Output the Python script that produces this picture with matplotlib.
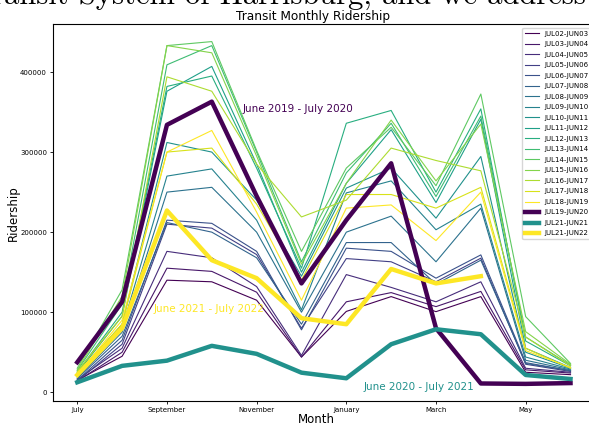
import numpy as np
import matplotlib
matplotlib.use("Agg")
import matplotlib.pyplot as plt

months = ["July", "August", "September", "October", "November", "December",
          "January", "February", "March", "April", "May", "June"]

# thin lines, one per fiscal year (Jul..Jun)
thin_labels = ["JUL02-JUN03", "JUL03-JUN04", "JUL04-JUN05", "JUL05-JUN06",
               "JUL06-JUN07", "JUL07-JUN08", "JUL08-JUN09", "JUL09-JUN10",
               "JUL10-JUN11", "JUL11-JUN12", "JUL12-JUN13", "JUL13-JUN14",
               "JUL14-JUN15", "JUL15-JUN16", "JUL16-JUN17", "JUL17-JUN18",
               "JUL18-JUN19"]
thin_values = [
    [15000, 45000, 140000, 138000, 115000, 44000, 101000, 119500, 100700, 119500, 25000, 22000],
    [14000, 50000, 155000, 151000, 125000, 44000, 113000, 124500, 107000, 126000, 28000, 24000],
    [16000, 55000, 176000, 168000, 132000, 46000, 147000, 131000, 113000, 138000, 30000, 25000],
    [14000, 60000, 210000, 205000, 172000, 80000, 167000, 163000, 138000, 167500, 35000, 26000],
    [15000, 65000, 215000, 211000, 176000, 78000, 180000, 176000, 142500, 171600, 37000, 27000],
    [17000, 70000, 212000, 200000, 168000, 85000, 187000, 187000, 135000, 165000, 36000, 27000],
    [18000, 75000, 250000, 256000, 200000, 100000, 200000, 220000, 163000, 230000, 40000, 28000],
    [20000, 80000, 270000, 279000, 215000, 103000, 249000, 264000, 203000, 235000, 44000, 29000],
    [22000, 85000, 312000, 300000, 240000, 145000, 255000, 280000, 217500, 294500, 50000, 30000],
    [24000, 95000, 376000, 407000, 285000, 150000, 261000, 328000, 237000, 341000, 55000, 31000],
    [25000, 100000, 382000, 395000, 280000, 155000, 336000, 352000, 250000, 354000, 64000, 33000],
    [27000, 110000, 409000, 433000, 300000, 163000, 274000, 336000, 244500, 345000, 69000, 34000],
    [30000, 128000, 433000, 438000, 302000, 176000, 280000, 331000, 258000, 372500, 94500, 36000],
    [28000, 120000, 433000, 424000, 295000, 160000, 261000, 340000, 264000, 335000, 75700, 35000],
    [26000, 95000, 394000, 376000, 285000, 219000, 240000, 305000, 289500, 276600, 69000, 33000],
    [24000, 85000, 300000, 305000, 235000, 140000, 247000, 247000, 230000, 256000, 55000, 30000],
    [22000, 90000, 300000, 327000, 225000, 115000, 230000, 234000, 189500, 250000, 52000, 31000],
]

# highlighted years
covid_1 = [37500, 113000, 334000, 363000, 245000, 136000, 215000, 286000, 80000, 11000, 10500, 11500]
covid_2 = [12500, 33000, 39500, 58000, 48000, 24500, 17500, 60000, 78700, 72500, 21600, 16600]
recent = [21600, 80000, 227000, 165000, 142500, 92500, 85000, 154000, 136000, 145000, np.nan, np.nan]

x = np.arange(len(months))
cmap = plt.get_cmap("viridis")
thin_colors = cmap(np.linspace(0, 1, len(thin_labels)))

fig = plt.figure(figsize=(5.89, 4.25), dpi=100)
ax = fig.add_axes([0.0893, 0.0565, 0.9212, 0.8859])

for vals, lab, c in zip(thin_values, thin_labels, thin_colors):
    ax.plot(x, vals, color=c, lw=0.8, label=lab)
ax.plot(x, covid_1, color=cmap(0.0), lw=3.2, label="JUL19-JUN20")
ax.plot(x, covid_2, color=cmap(0.5), lw=3.2, label="JUL21-JUN21")
ax.plot(x, recent, color=cmap(1.0), lw=3.2, label="JUL21-JUN22")

ax.text(4.93, 354000, "June 2019 - July 2020", color=cmap(0.0), fontsize=7.5, ha="center", va="center")
ax.text(2.93, 104000, "June 2021 - July 2022", color=cmap(1.0), fontsize=7.5, ha="center", va="center")
ax.text(7.63, 6500, "June 2020 - July 2021", color=cmap(0.5), fontsize=7.5, ha="center", va="center")

ax.set_xticks(x[::2])
ax.set_xticklabels(months[::2])
ax.tick_params(labelsize=5, length=2, width=0.6, pad=2)
ax.set_title("Transit Monthly Ridership", fontsize=8.7, x=0.48, pad=3)
ax.set_xlabel("Month", fontsize=8.5)
ax.set_ylabel("Ridership", fontsize=8.5)
ax.xaxis.set_label_coords(0.4855, -0.032)
ax.yaxis.set_label_coords(-0.061, 0.5)
ax.legend(loc="upper right", fontsize=5, labelspacing=0.65)

# cut-off line of the surrounding document
fig.text(586 / 589, 420 / 425, "Transit System of Harrisburg, and we address",
         family="cmr10", fontsize=22, ha="right", va="baseline")

fig.savefig("out.png", dpi=100)
